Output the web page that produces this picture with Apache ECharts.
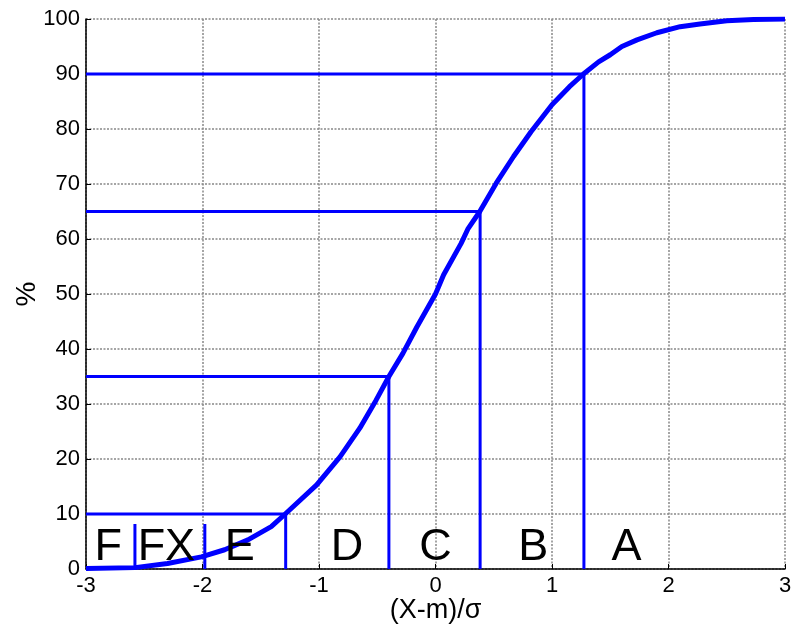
<!DOCTYPE html>
<html>
<head>
<meta charset="utf-8">
<script src="https://cdn.jsdelivr.net/npm/echarts@6/dist/echarts.min.js"></script>
<style>
html,body{margin:0;padding:0;background:#fff;}
#chart{width:792px;height:626px;}
</style>
</head>
<body>
<div id="chart"></div>
<script>
// Curve (cumulative %)
const curveX = [-3, -2.58, -2.3, -2.01, -1.81, -1.61, -1.41, -1.29, -1.02, -0.82, -0.65, -0.51, -0.40, -0.28, -0.16, 0, 0.07, 0.22, 0.28, 0.38, 0.52, 0.67, 0.82, 1.0, 1.15, 1.27, 1.4, 1.5, 1.6, 1.73, 1.9, 2.1, 2.27, 2.5, 2.73, 3];
const curveY = [0.1, 0.25, 1.0, 2.2, 3.5, 5.3, 7.7, 10, 15.3, 20.4, 25.6, 30.7, 35, 39.2, 44, 50, 53.5, 59.2, 61.9, 65, 70.1, 75, 79.5, 84.4, 87.7, 90, 92.2, 93.5, 95, 96.2, 97.5, 98.6, 99.1, 99.7, 99.9, 100];

// Grade thresholds (%) and where the curve crosses them
const thresholdPct = [10, 35, 65, 90];
const thresholdX = [-1.286, -0.40, 0.383, 1.274];

// Short dividers F|FX and FX|E
const dividerX = [-2.58, -1.98];
const dividerTop = 8.2;

// Grade letters
const gradeNames = ['F', 'FX', 'E', 'D', 'C', 'B', 'A'];
const gradeX = [-2.81, -2.31, -1.68, -0.76, 0, 0.84, 1.64];
const gradeY = 4.6;

// Axis ticks
const xTicks = [-3, -2, -1, 0, 1, 2, 3];
const yTicks = [0, 10, 20, 30, 40, 50, 60, 70, 80, 90, 100];

const BLUE = '#0000ff';
const FONT = 'Liberation Sans, Arial, sans-serif';

const series = [];
thresholdPct.forEach((t, i) => {
  series.push({
    type: 'line', symbol: 'none', silent: true, z: 3,
    lineStyle: { color: BLUE, width: 3 },
    data: [[xTicks[0], t], [thresholdX[i], t], [thresholdX[i], yTicks[0]]]
  });
});
dividerX.forEach(x => {
  series.push({
    type: 'line', symbol: 'none', silent: true, z: 3,
    lineStyle: { color: BLUE, width: 3 },
    data: [[x, 0], [x, dividerTop]]
  });
});
series.push({
  type: 'line', symbol: 'none', silent: true, z: 4,
  lineStyle: { color: BLUE, width: 5 },
  data: curveX.map((x, i) => [x, curveY[i]])
});
series.push({
  type: 'scatter', symbolSize: 0, silent: true, z: 5,
  itemStyle: { opacity: 1 },
  data: gradeNames.map((n, i) => ({ value: [gradeX[i], gradeY], name: n })),
  label: {
    show: true, position: [0, 0], align: 'center', verticalAlign: 'middle',
    offset: [0, 4], opacity: 1,
    formatter: p => p.name,
    color: '#000', fontSize: 45, fontFamily: FONT
  }
});

const chart = echarts.init(document.getElementById('chart'), null, { renderer: 'canvas' });
chart.setOption({
  animation: false,
  backgroundColor: '#fff',
  grid: { left: 86, right: 7, top: 19, bottom: 57, containLabel: false, outerBoundsMode: 'none' },
  xAxis: {
    type: 'value', min: -3, max: 3, interval: 1,
    name: '(X-m)/σ', nameLocation: 'middle', nameGap: 28, nameMoveOverlap: false,
    nameTextStyle: { color: '#000', fontSize: 27, fontFamily: FONT, verticalAlign: 'top' },
    axisLine: { show: true, onZero: false, lineStyle: { color: '#000', width: 1.5 } },
    axisTick: { show: true, inside: true, length: 5, lineStyle: { color: '#000' } },
    axisLabel: { color: '#000', fontSize: 22, fontFamily: FONT, margin: 6,
      formatter: v => String(v) },
    splitLine: { show: true, lineStyle: { color: '#888', width: 1.5, type: [2, 1.5] } }
  },
  yAxis: {
    type: 'value', min: 0, max: 100, interval: 10,
    name: '%', nameLocation: 'middle', nameGap: 45, nameMoveOverlap: false,
    nameTextStyle: { color: '#000', fontSize: 28, fontFamily: FONT },
    axisLine: { show: true, onZero: false, lineStyle: { color: '#000', width: 1.5 } },
    axisTick: { show: true, inside: true, length: 5, lineStyle: { color: '#000' } },
    axisLabel: { color: '#000', fontSize: 22, fontFamily: FONT, margin: 6 },
    splitLine: { show: true, lineStyle: { color: '#888', width: 1.5, type: [2, 1.5] } }
  },
  series: series
});
</script>
</body>
</html>
